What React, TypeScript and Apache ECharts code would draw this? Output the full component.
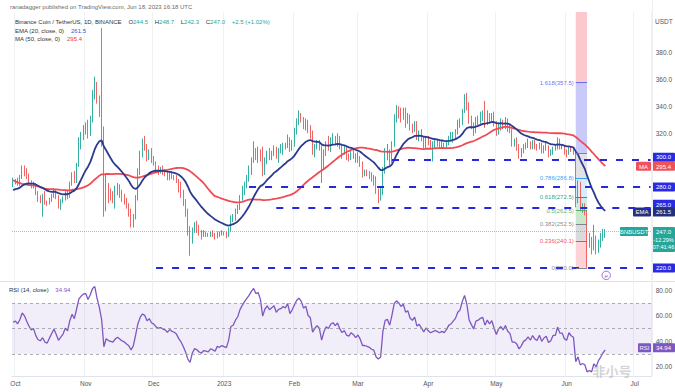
import React, { useEffect, useRef } from 'react';
import * as echarts from 'echarts';

// ---------------- data ----------------
const axisDays = 282; // Sep 30 2022 .. Jul 8 2023 (right margin of the chart)
const monthTicks: [string, string][] = [
  ['2022-10-01', 'Oct'], ['2022-11-01', 'Nov'], ['2022-12-01', 'Dec'], ['2023-01-01', '2023'],
  ['2023-02-01', 'Feb'], ['2023-03-01', 'Mar'], ['2023-04-01', 'Apr'], ['2023-05-01', 'May'],
  ['2023-06-01', 'Jun'], ['2023-07-01', 'Jul'],
];

// closes Aug 1 – Sep 29 2022 (only used to warm up the indicators, not drawn)
const warmupCloses = [
  290, 288, 292, 300, 313, 310, 316, 318, 312, 322, 323, 325, 322, 318, 315, 312, 303, 301, 285, 283, 293, 297, 297, 297, 299, 283, 275, 274, 282, 275, 278,
  281, 279, 277, 281, 282, 269, 277, 281, 295, 295, 295, 292, 272, 277, 272, 273, 274, 265, 273, 271, 264, 276, 275, 274, 272, 276, 275, 280, 282,
];

const firstOpen = 282;
// daily candles from Sep 30 2022 to Jun 18 2023
const closes = [
  284,
  285, 283, 287, 294, 292, 288, 284, 281, 282, 276, 272, 271, 273, 269, 268, 271, 274, 277, 273, 268, 270, 272, 276, 274, 282, 288, 285, 296, 312, 318, 323,
  324, 320, 330, 348, 355, 345, 336, 322, 266, 281, 276, 274, 272, 277, 280, 276, 272, 270, 266, 262, 253, 258, 272, 291, 304, 312, 310, 302, 306, 300,
  298, 294, 292, 293, 291, 290, 287, 290, 288, 287, 285, 280, 276, 270, 262, 248, 240, 248, 252, 250, 246, 244, 246, 245, 244, 246, 245, 243, 246, 245, 246,
  245, 244, 248, 257, 258, 262, 265, 272, 277, 282, 287, 292, 300, 307, 304, 306, 302, 290, 300, 305, 302, 305, 308, 303, 307, 308, 311, 310, 316, 309, 314,
  321, 329, 333, 331, 326, 329, 322, 320, 306, 310, 313, 310, 296, 305, 311, 309, 314, 316, 313, 316, 310, 306, 308, 303, 302, 305, 303, 300,
  302, 298, 291, 291, 290, 289, 287, 286, 278, 275, 276, 293, 304, 305, 300, 312, 332, 338, 336, 333, 337, 330, 332, 325, 323, 327, 318, 320, 316, 312, 316,
  313, 311, 312, 313, 312, 311, 312, 311, 313, 316, 317, 319, 321, 326, 328, 337, 346, 341, 330, 326, 322, 330, 331, 333, 334, 328, 333, 330, 333, 327,
  321, 326, 328, 325, 329, 324, 322, 313, 313, 311, 305, 307, 310, 311, 313, 310, 313, 310, 309, 312, 307, 309, 310, 305, 306, 309, 309, 314, 310, 310, 306,
  305, 309, 307, 306, 278, 281, 264, 265, 262, 240, 241, 236, 242, 233, 238, 241, 244.5, 247.0,
];
const highs = [
  287,
  286, 287, 289, 296, 296, 294, 290, 285, 284, 283, 277, 274, 275, 277, 270, 272, 275, 279, 278, 274, 271, 273, 277, 278, 284, 291, 292, 298, 317, 321, 326,
  328, 330, 333, 352, 362, 358, 348, 398, 325, 290, 283, 279, 277, 281, 283, 282, 278, 275, 272, 268, 264, 260, 274, 294, 307, 316, 318, 312, 308, 309,
  303, 299, 296, 295, 296, 293, 292, 291, 292, 289, 289, 286, 284, 278, 271, 264, 251, 250, 254, 255, 252, 248, 248, 247, 246, 247, 248, 246, 247, 247, 248,
  247, 247, 250, 259, 260, 264, 267, 274, 281, 284, 289, 296, 302, 314, 309, 310, 308, 310, 302, 307, 309, 307, 311, 310, 309, 312, 313, 313, 319, 317, 315,
  324, 331, 337, 335, 332, 331, 330, 326, 322, 312, 315, 315, 311, 308, 314, 318, 317, 320, 318, 320, 318, 312, 311, 310, 305, 307, 308, 305,
  306, 303, 299, 293, 293, 292, 291, 289, 288, 279, 280, 295, 309, 312, 308, 314, 334, 341, 340, 339, 339, 339, 335, 334, 327, 329, 329, 322, 323, 318, 318,
  318, 315, 314, 315, 316, 314, 314, 313, 315, 318, 321, 321, 323, 330, 331, 338, 349, 350, 343, 333, 328, 332, 333, 336, 337, 344, 337, 335, 335, 336,
  329, 328, 331, 330, 332, 331, 327, 323, 316, 317, 312, 309, 312, 313, 316, 314, 315, 315, 312, 313, 313, 311, 313, 311, 308, 310, 311, 317, 316, 312, 311,
  308, 310, 310, 309, 307, 285, 284, 268, 268, 263, 246, 243, 252, 244, 241, 246, 249, 248.7,
];
const lows = [
  280,
  282, 281, 281, 286, 288, 286, 282, 279, 279, 274, 269, 268, 258, 267, 266, 267, 269, 272, 271, 264, 263, 268, 270, 271, 272, 281, 283, 283, 295, 308, 315,
  319, 316, 318, 328, 345, 342, 332, 310, 258, 262, 268, 270, 268, 264, 274, 272, 269, 267, 264, 258, 250, 250, 256, 270, 289, 302, 307, 299, 300, 298,
  296, 291, 289, 290, 289, 288, 285, 285, 286, 285, 283, 276, 272, 266, 258, 244, 229, 238, 246, 246, 244, 241, 243, 243, 243, 243, 243, 241, 242, 243, 244,
  244, 242, 243, 247, 254, 255, 260, 263, 270, 274, 279, 284, 289, 298, 300, 298, 299, 288, 289, 297, 300, 300, 303, 301, 298, 305, 304, 308, 309, 306, 307,
  310, 319, 326, 328, 323, 322, 320, 316, 304, 302, 308, 307, 283, 293, 303, 307, 306, 312, 311, 310, 308, 301, 304, 300, 299, 300, 301, 298,
  298, 295, 287, 288, 288, 286, 284, 281, 275, 268, 270, 274, 290, 300, 296, 298, 310, 328, 331, 328, 330, 324, 327, 322, 320, 321, 315, 314, 314, 309, 309,
  311, 308, 299, 309, 310, 309, 309, 309, 309, 311, 314, 313, 316, 319, 324, 326, 335, 337, 327, 323, 318, 320, 326, 327, 329, 324, 326, 327, 328, 325,
  318, 319, 322, 323, 323, 321, 320, 310, 310, 307, 301, 302, 305, 308, 309, 308, 308, 308, 307, 308, 305, 305, 307, 302, 303, 304, 307, 308, 308, 308, 304,
  302, 304, 306, 304, 265, 268, 262, 261, 259, 220, 235, 230, 233, 230, 231, 235, 240, 242.3,
];

// horizontal support / resistance drawings
const supportValues = [300, 280, 265, 220];
const supportStarts = ['2023-03-16', '2023-01-12', '2023-01-24', '2022-12-02'];
// Fibonacci drawing
const fibFrom = '2023-06-05';
const fibTo = '2023-06-10';
const fibRatios = ['0', '0.236', '0.382', '0.5', '0.618', '0.786', '1', '1.618'];
const fibPrices = [220.0, 240.1, 252.5, 262.5, 272.5, 286.8, 305.0, 357.5];
const fibLineColors = ['#787b86', '#f23645', '#787b86', '#4caf50', '#089981', '#2196f3', '#787b86', '#5b5ff0'];
const fibZoneColors = [
  'rgba(242,54,69,0.22)', 'rgba(120,123,134,0.28)', 'rgba(76,175,80,0.3)', 'rgba(8,153,129,0.2)',
  'rgba(33,150,243,0.18)', 'rgba(120,123,134,0.22)', 'rgba(91,95,240,0.33)', 'rgba(242,54,69,0.27)',
];
const fibTop = 410;

// legend / label values as shown
const lastPrice = 247.0;
const emaLast = 261.5;
const maLast = 295.4;
const rsiLast = 34.94;

// ---------------- helpers ----------------
const FONT = '"Liberation Sans", Arial, sans-serif';

function buildDates(): string[] {
  const out: string[] = [];
  for (let i = 0; i < axisDays; i++) {
    const d = new Date(Date.UTC(2022, 8, 30 + i));
    out.push(d.toISOString().slice(0, 10));
  }
  return out;
}

export default function App() {
  const ref = useRef<HTMLDivElement>(null);
  useEffect(() => {
    const el = ref.current!;
    const chart = echarts.init(el, null, { renderer: 'svg' });
    const cats = buildDates();
    const tickMap = new Map(monthTicks);
    const N = closes.length;
    const all = [...warmupCloses, ...closes];
    const W = warmupCloses.length;

    // indicators computed from the closes
    const ma50 = closes.map((_, i) => {
      const j = i + W;
      let s = 0;
      for (let k = j - 49; k <= j; k++) s += all[k];
      return +(s / 50).toFixed(2);
    });
    const ema20: number[] = [];
    {
      const a = 2 / 21;
      let e = 0;
      for (let k = 0; k < 20; k++) e += all[k];
      e /= 20;
      for (let j = 20; j < all.length; j++) {
        e = a * all[j] + (1 - a) * e;
        if (j >= W) ema20.push(+e.toFixed(2));
      }
    }
    const rsi: number[] = [];
    {
      let ag = 0, al = 0;
      for (let j = 1; j <= 14; j++) {
        const d = all[j] - all[j - 1];
        if (d > 0) ag += d; else al -= d;
      }
      ag /= 14; al /= 14;
      for (let j = 15; j < all.length; j++) {
        const d = all[j] - all[j - 1];
        ag = (ag * 13 + Math.max(d, 0)) / 14;
        al = (al * 13 + Math.max(-d, 0)) / 14;
        if (j >= W) rsi.push(+(100 - 100 / (1 + ag / al)).toFixed(2));
      }
    }

    const candles = closes.map((c, i) => {
      const o = i === 0 ? firstOpen : closes[i - 1];
      return [o, c, Math.min(lows[i], o, c), Math.max(highs[i], o, c)];
    });

    const lastCat = cats[axisDays - 1];
    const supportLines = supportValues.map((v, i) => [
      { coord: [supportStarts[i], v] },
      { coord: [lastCat, v] },
    ]);
    const fibLines = fibPrices.map((p, i) => [
      {
        coord: [fibFrom, p],
        lineStyle: { color: fibLineColors[i], width: 1, type: 'solid', opacity: 0.9 },
        label: {
          show: fibRatios[i] !== '1',
          position: 'start',
          distance: 2,
          formatter: `${fibRatios[i]}(${p.toFixed(1)})`,
          color: fibLineColors[i],
          fontSize: 6,
          fontFamily: FONT,
        },
      },
      { coord: [fibTo, p] },
    ]);
    const fibBounds = [...fibPrices, fibTop];
    const fibZones = fibPrices.map((p, i) => [
      { xAxis: fibFrom, yAxis: p, itemStyle: { color: fibZoneColors[i] } },
      { xAxis: fibTo, yAxis: fibBounds[i + 1] },
    ]);

    const vSplit = {
      show: true,
      interval: (idx: number) => tickMap.has(cats[idx]),
      lineStyle: { color: '#f0f1f4', width: 1 },
    };

    const up = '#36b0a0';
    const down = '#f06464';

    const option: any = {
      animation: false,
      backgroundColor: '#ffffff',
      textStyle: { fontFamily: FONT },
      grid: [
        { left: 12, right: 23, top: 12, height: 268 },
        { left: 12, right: 23, top: 282, height: 94 },
      ],
      xAxis: [
        {
          type: 'category', gridIndex: 0, data: cats, boundaryGap: true,
          axisLine: { show: false }, axisTick: { show: false }, axisLabel: { show: false },
          splitLine: vSplit,
        },
        {
          type: 'category', gridIndex: 1, data: cats, boundaryGap: true,
          axisLine: { show: true, lineStyle: { color: '#e0e3eb' } }, axisTick: { show: false },
          axisLabel: {
            show: true, interval: (idx: number, v: string) => tickMap.has(v),
            formatter: (v: string) => tickMap.get(v) || '',
            color: '#555', fontSize: 6.5, margin: 4, fontFamily: FONT,
          },
          splitLine: vSplit,
        },
      ],
      yAxis: [
        {
          type: 'value', gridIndex: 0, position: 'right', min: 211, max: 410,
          axisLine: { show: false }, axisTick: { show: false }, splitLine: { show: false },
          axisLabel: {
            customValues: [320, 340, 360, 380], formatter: (v: number) => v.toFixed(1),
            color: '#555', fontSize: 6.5, margin: 4, fontFamily: FONT,
          },
        },
        {
          type: 'value', gridIndex: 1, position: 'right', min: 12.6, max: 86.8,
          axisLine: { show: false }, axisTick: { show: false }, splitLine: { show: false },
          axisLabel: {
            customValues: [20, 40, 60, 80], formatter: (v: number) => v.toFixed(2),
            color: '#555', fontSize: 6.5, margin: 4, fontFamily: FONT,
          },
        },
      ],
      series: [
        {
          type: 'candlestick', name: 'BNBUSDT', xAxisIndex: 0, yAxisIndex: 0,
          data: candles, barWidth: 1,
          itemStyle: { color: up, color0: down, borderColor: up, borderColor0: down, borderWidth: 1 },
          markArea: { silent: true, data: fibZones },
          z: 2,
        },
        {
          type: 'line', name: 'MA', xAxisIndex: 0, yAxisIndex: 0, data: ma50, showSymbol: false,
          lineStyle: { color: '#ef4b54', width: 1.8 }, z: 3,
        },
        {
          type: 'line', name: 'EMA', xAxisIndex: 0, yAxisIndex: 0, data: ema20, showSymbol: false,
          lineStyle: { color: '#2c3a8e', width: 1.8 }, z: 4,
        },
        {
          type: 'line', name: 'drawings', xAxisIndex: 0, yAxisIndex: 0,
          data: closes.map(() => null), showSymbol: false, z: 5,
          markLine: {
            silent: true, symbol: ['none', 'none'],
            label: { show: false },
            lineStyle: { color: '#2727e0', width: 2, type: [7, 9] },
            data: [
              ...supportLines,
              ...fibLines,
              { yAxis: lastPrice, lineStyle: { color: '#26a69a', width: 1, type: 'dotted', opacity: 0.55 } },
            ],
          },
        },
        {
          type: 'line', name: 'RSI', xAxisIndex: 1, yAxisIndex: 1, data: rsi, showSymbol: false,
          lineStyle: { color: '#7e57c2', width: 1.3 },
          markArea: { silent: true, itemStyle: { color: 'rgba(126,87,194,0.1)' }, data: [[{ yAxis: 30 }, { yAxis: 70 }]] },
          markLine: {
            silent: true, symbol: ['none', 'none'], label: { show: false },
            lineStyle: { color: '#9598a1', width: 0.8, type: [3, 3] },
            data: [{ yAxis: 70 }, { yAxis: 50 }, { yAxis: 30 }],
          },
        },
      ],
    };
    chart.setOption(option);

    const py = (v: number) => chart.convertToPixel({ yAxisIndex: 0 }, v) as number;
    const ry = (v: number) => chart.convertToPixel({ yAxisIndex: 1 }, v) as number;
    const px = (c: string) => chart.convertToPixel({ xAxisIndex: 0 }, c) as number;

    const AX = 652, AW = 23, BH = 9;
    const box = (x: number, yc: number, w: number, h: number, fill: string, text: string, color = '#fff') => ({
      type: 'group', z: 100,
      children: [
        { type: 'rect', shape: { x, y: yc - h / 2, width: w, height: h, r: 1 }, style: { fill } },
        { type: 'text', x: x + w / 2, y: yc + 0.3, style: { text, fill: color, font: `6px ${FONT}`, align: 'center', verticalAlign: 'middle' } },
      ],
    });
    const blue = '#2a2ae6';
    const txt = (x: number, y: number, text: string, fill: string, size = 6, extra: any = {}) => ({
      type: 'text', x, y, z: 100,
      style: { text, fill, font: `${size}px ${FONT}`, verticalAlign: 'middle', ...extra },
    });

    const yP = py(lastPrice);
    const graphic: any[] = [
      // pane borders
      { type: 'line', z: 90, shape: { x1: 0, y1: 281.5, x2: 675, y2: 281.5 }, style: { stroke: '#e0e3eb', lineWidth: 1 } },
      { type: 'line', z: 90, shape: { x1: AX + 0.5, y1: 0, x2: AX + 0.5, y2: 376 }, style: { stroke: '#eceef2', lineWidth: 1 } },
      // header
      txt(10, 7, 'ranadagger published on TradingView.com, Jun 18, 2023 16:18 UTC', '#6b6b6b', 6),
      {
        type: 'text', x: 15, y: 21.5, z: 100,
        style: {
          text: '{a|Binance Coin / TetherUS, 1D, BINANCE}  {a|O}{v|244.5}  {a|H}{v|248.7}  {a|L}{v|242.3}  {a|C}{v|247.0}  {v|+2.5 (+1.02%)}',
          verticalAlign: 'middle',
          rich: {
            a: { fill: '#333', font: `6px ${FONT}` },
            v: { fill: '#26a69a', font: `6px ${FONT}` },
          },
        },
      },
      {
        type: 'text', x: 15, y: 30.5, z: 100,
        style: {
          text: '{a|EMA (20, close, 0)}  {v|' + emaLast.toFixed(1) + '}', verticalAlign: 'middle',
          rich: { a: { fill: '#333', font: `6px ${FONT}` }, v: { fill: '#3f51d5', font: `6px ${FONT}` } },
        },
      },
      {
        type: 'text', x: 15, y: 39, z: 100,
        style: {
          text: '{a|MA (50, close, 0)}  {v|' + maLast.toFixed(1) + '}', verticalAlign: 'middle',
          rich: { a: { fill: '#333', font: `6px ${FONT}` }, v: { fill: '#f23645', font: `6px ${FONT}` } },
        },
      },
      {
        type: 'text', x: 9, y: 289.5, z: 100,
        style: {
          text: '{a|RSI (14, close)}  {v|' + rsiLast.toFixed(2) + '}', verticalAlign: 'middle',
          rich: { a: { fill: '#333', font: `6px ${FONT}` }, v: { fill: '#7e57c2', font: `6px ${FONT}` } },
        },
      },
      txt(655, 21, 'USDT', '#555', 6.5),
      // price axis boxes
      box(AX, py(300) - 3, AW, BH, blue, '300.0'),
      box(636, py(maLast), 15, BH, '#f0525b', 'MA'),
      box(AX, py(maLast), AW, BH, '#f0525b', maLast.toFixed(1)),
      box(AX, py(280), AW, BH, blue, '280.0'),
      box(AX, py(265) - 3, AW, BH, blue, '265.0'),
      box(633, py(emaLast), 18, BH, '#24307e', 'EMA'),
      box(AX, py(emaLast), AW, BH, '#24307e', emaLast.toFixed(1)),
      box(620, yP, 28, BH, '#26a69a', 'BNBUSDT'),
      {
        type: 'group', z: 100,
        children: [
          { type: 'rect', shape: { x: AX, y: yP - 4.5, width: AW, height: 25, r: 1 }, style: { fill: '#26a69a' } },
          { type: 'text', x: AX + AW / 2, y: yP + 0.3, style: { text: lastPrice.toFixed(1), fill: '#fff', font: `6px ${FONT}`, align: 'center', verticalAlign: 'middle' } },
          { type: 'text', x: AX + AW / 2, y: yP + 8, style: { text: '-12.29%', fill: '#fff', font: `5.5px ${FONT}`, align: 'center', verticalAlign: 'middle' } },
          { type: 'text', x: AX + AW / 2, y: yP + 15.5, style: { text: '07:41:46', fill: '#fff', font: `5.5px ${FONT}`, align: 'center', verticalAlign: 'middle' } },
        ],
      },
      box(AX, py(220), AW, BH, blue, '220.0'),
      // RSI box
      box(638, ry(rsiLast), 13, BH, '#7e57c2', 'RSI'),
      box(AX, ry(rsiLast), AW, BH, '#7e57c2', rsiLast.toFixed(2)),
      // event marker
      {
        type: 'group', z: 100,
        children: [
          { type: 'circle', shape: { cx: px(cats[N - 1]) + 1, cy: py(220) + 7.5, r: 4.2 }, style: { fill: '#fff', stroke: '#9c6ade', lineWidth: 1 } },
          { type: 'text', x: px(cats[N - 1]) + 1, y: py(220) + 7.7, style: { text: 'e', fill: '#9c6ade', font: `italic 6px ${FONT}`, align: 'center', verticalAlign: 'middle' } },
        ],
      },
      // watermark (kept clear of the axis texts)
      {
        type: 'text', x: 612, y: 370, z: 110,
        style: { text: '非小号', fill: 'rgba(175,175,175,0.55)', font: 'bold 13px "Noto Sans CJK SC"', align: 'center', verticalAlign: 'middle' },
      },
    ];
    chart.setOption({ graphic });

    return () => chart.dispose();
  }, []);
  return <div ref={ref} style={{ position: 'absolute', left: 0, top: 0, width: 675, height: 392, background: '#fff' }} />;
}
